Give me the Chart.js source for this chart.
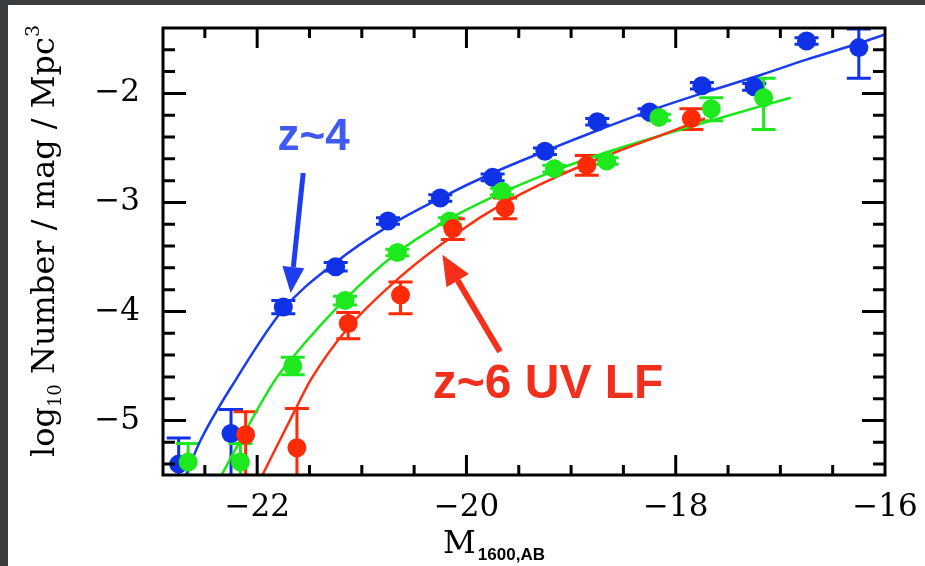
<!DOCTYPE html>
<html>
<head>
<meta charset="utf-8">
<script src="https://cdn.jsdelivr.net/npm/chart.js@4.4.0/dist/chart.umd.min.js"></script>
<style>
  html, body { margin: 0; padding: 0; background: #3a3d40; }
  #wrap { width: 925px; height: 566px; }
</style>
</head>
<body>
<div id="wrap"><canvas id="lf" width="925" height="566"></canvas></div>
<script>
// z~4 (blue) binned LF
const z4M  = [-22.75, -22.25, -21.75, -21.25, -20.75, -20.25, -19.75, -19.25, -18.75, -18.25, -17.75, -17.25, -16.75, -16.25];
const z4Phi = [-5.40, -5.12, -3.96, -3.59, -3.17, -2.96, -2.77, -2.53, -2.26, -2.17, -1.93, -1.94, -1.52, -1.58];
const z4Lo = [-5.80, -5.60, -4.02, -3.63, -3.20, -2.99, -2.80, -2.56, -2.29, -2.20, -1.96, -1.97, -1.55, -1.86];
const z4Hi = [-5.16, -4.90, -3.90, -3.55, -3.14, -2.93, -2.74, -2.50, -2.23, -2.14, -1.90, -1.91, -1.49, -1.41];

// z~5 (green)
const z5M  = [-22.66, -22.16, -21.66, -21.16, -20.66, -20.16, -19.66, -19.16, -18.66, -18.16, -17.66, -17.16];
const z5Phi = [-5.38, -5.38, -4.50, -3.90, -3.46, -3.17, -2.90, -2.69, -2.62, -2.22, -2.14, -2.04];
const z5Lo = [-5.80, -5.80, -4.58, -3.94, -3.49, -3.20, -2.93, -2.72, -2.65, -2.25, -2.25, -2.33];
const z5Hi = [-5.21, -5.21, -4.42, -3.86, -3.43, -3.14, -2.87, -2.66, -2.59, -2.19, -2.04, -1.86];

// z~6 (red)
const z6M  = [-22.11, -21.62, -21.13, -20.63, -20.13, -19.63, -18.85, -17.85];
const z6Phi = [-5.13, -5.25, -4.11, -3.85, -3.24, -3.05, -2.66, -2.23];
const z6Lo = [-5.80, -5.80, -4.25, -4.02, -3.34, -3.15, -2.75, -2.33];
const z6Hi = [-4.92, -4.89, -4.01, -3.73, -3.15, -2.96, -2.57, -2.14];

// fitted curves
const fit4M = [-22.68, -22.55, -22.2, -21.75, -21.25, -20.75, -20.25, -19.75, -19.25, -18.75, -18.25, -17.75, -17.25, -16.75, -16.25, -16.0];
const fit4Phi = [-5.50, -5.20, -4.62, -3.98, -3.55, -3.22, -2.96, -2.73, -2.53, -2.34, -2.16, -2.00, -1.85, -1.69, -1.54, -1.46];
const fit5M = [-22.34, -22.16, -21.83, -21.66, -21.16, -20.66, -20.16, -19.66, -19.16, -18.66, -18.16, -17.66, -17.16, -16.9];
const fit5Phi = [-5.50, -5.18, -4.63, -4.42, -3.89, -3.46, -3.15, -2.91, -2.71, -2.54, -2.39, -2.25, -2.11, -2.04];
const fit6M = [-21.95, -21.62, -21.49, -21.13, -20.63, -20.12, -19.63, -19.13, -18.63, -18.13, -17.72];
const fit6Phi = [-5.50, -4.87, -4.63, -4.15, -3.68, -3.30, -3.00, -2.76, -2.56, -2.38, -2.23];

// axes
const xRange = [-22.9, -16];
const yRange = [-5.5, -1.4];
const xTickVals = [-22, -20, -18, -16];
const yTickVals = [-5, -4, -3, -2];

const BLUE = '#0f32e6', GREEN = '#1ee81e', RED = '#ff2a06';

const toXY = (xs, ys) => xs.map((v, i) => ({ x: v, y: ys[i] }));
const minus = v => String(v).replace('-', '\u2212');

function pointSet(xs, ys, lo, hi, col, ord) {
    return {
        data: toXY(xs, ys), errLo: lo, errHi: hi,
        backgroundColor: col, borderColor: col, pointRadius: 9.5, pointHoverRadius: 9.5,
        borderWidth: 0, showLine: false, order: ord
    };
}
function fitSet(xs, ys, col, ord) {
    return {
        data: toXY(xs, ys), borderColor: col, borderWidth: 2.5, pointRadius: 0,
        showLine: true, cubicInterpolationMode: 'monotone', order: ord
    };
}

// dark frame + white page
const paper = {
    id: 'paper',
    beforeDraw(chart) {
        const ctx = chart.ctx;
        ctx.save();
        ctx.fillStyle = '#3a3d40';
        ctx.fillRect(0, 0, chart.width, chart.height);
        ctx.fillStyle = '#fff';
        ctx.fillRect(8, 5, chart.width - 8, chart.height - 5);
        ctx.restore();
    }
};

// vertical error bars with caps
const errBars = {
    id: 'errBars',
    beforeDatasetsDraw(chart) {
        const { ctx, chartArea: a, scales: { x, y } } = chart;
        ctx.save();
        ctx.beginPath();
        ctx.rect(a.left, a.top, a.right - a.left, a.bottom - a.top);
        ctx.clip();
        ctx.lineWidth = 3;
        chart.data.datasets.forEach(ds => {
            if (!ds.errLo) return;
            ctx.strokeStyle = ds.borderColor;
            ds.data.forEach((p, i) => {
                const px = x.getPixelForValue(p.x);
                const y1 = y.getPixelForValue(ds.errLo[i]);
                const y2 = y.getPixelForValue(ds.errHi[i]);
                ctx.beginPath();
                ctx.moveTo(px, y1); ctx.lineTo(px, y2);
                ctx.moveTo(px - 12, y1); ctx.lineTo(px + 12, y1);
                ctx.moveTo(px - 12, y2); ctx.lineTo(px + 12, y2);
                ctx.stroke();
            });
        });
        ctx.restore();
    }
};

// box, inward ticks, labels and arrows
function arrow(ctx, x0, y0, x1, y1, w, hl, hw, col) {
    const ang = Math.atan2(y1 - y0, x1 - x0);
    const bx = x1 - hl * Math.cos(ang), by = y1 - hl * Math.sin(ang);
    ctx.strokeStyle = col; ctx.fillStyle = col; ctx.lineWidth = w;
    ctx.beginPath(); ctx.moveTo(x0, y0); ctx.lineTo(bx, by); ctx.stroke();
    ctx.beginPath();
    ctx.moveTo(x1, y1);
    ctx.lineTo(bx + hw * Math.sin(ang), by - hw * Math.cos(ang));
    ctx.lineTo(bx - hw * Math.sin(ang), by + hw * Math.cos(ang));
    ctx.closePath(); ctx.fill();
}

const decor = {
    id: 'decor',
    afterDatasetsDraw(chart) {
        const { ctx, chartArea: a, scales: { x, y } } = chart;
        ctx.save();
        ctx.strokeStyle = '#000';
        ctx.lineWidth = 3;
        ctx.strokeRect(a.left, a.top, a.right - a.left, a.bottom - a.top);
        ctx.beginPath();
        for (let v = -22.5; v < xRange[1]; v += 0.5) {
            const px = x.getPixelForValue(v);
            const len = v % 2 === 0 ? 20 : 10;
            ctx.moveTo(px, a.bottom); ctx.lineTo(px, a.bottom - len);
            ctx.moveTo(px, a.top); ctx.lineTo(px, a.top + len);
        }
        for (let k = -27; k <= -8; k++) {
            const py = y.getPixelForValue(k / 5);
            const len = k % 5 === 0 ? 23 : 12;
            ctx.moveTo(a.left, py); ctx.lineTo(a.left + len, py);
            ctx.moveTo(a.right, py); ctx.lineTo(a.right - len, py);
        }
        ctx.stroke();

        // arrows
        arrow(ctx, x.getPixelForValue(-21.56), y.getPixelForValue(-2.73),
              x.getPixelForValue(-21.68), y.getPixelForValue(-3.83), 5, 26, 11, '#1e3ef0');
        arrow(ctx, x.getPixelForValue(-19.68), y.getPixelForValue(-4.37),
              x.getPixelForValue(-20.23), y.getPixelForValue(-3.48), 6, 30, 13, '#f4301a');

        // labels
        ctx.textAlign = 'center';
        ctx.textBaseline = 'middle';
        ctx.font = 'bold 44px "Liberation Sans"';
        ctx.fillStyle = '#3f5af2';
        ctx.fillText('z~4', x.getPixelForValue(-21.46), y.getPixelForValue(-2.41));
        ctx.font = 'bold 48px "Liberation Sans"';
        ctx.fillStyle = '#f0301c';
        ctx.fillText('z~6 UV LF', x.getPixelForValue(-19.22), y.getPixelForValue(-4.67));
        ctx.restore();
    },
    afterDraw(chart) {
        const ctx = chart.ctx;
        ctx.save();
        ctx.fillStyle = '#000';
        ctx.textBaseline = 'alphabetic';
        ctx.textAlign = 'left';

        // x title: M_1600,AB
        const mFont = '32px "DejaVu Serif"', sFont = 'bold 17px "Liberation Sans"';
        ctx.font = mFont; const wM = ctx.measureText('M').width;
        ctx.font = sFont; const wS = ctx.measureText('1600,AB').width;
        let x0 = 494 - (wM + wS + 2) / 2;
        ctx.font = mFont; ctx.fillText('M', x0, 553);
        ctx.font = sFont; ctx.fillText('1600,AB', x0 + wM + 2, 560);

        // y title, rotated
        const parts = [
            { t: 'log', f: '32px "DejaVu Serif"', dy: 0 },
            { t: '10', f: '18px "DejaVu Serif"', dy: 7 },
            { t: ' Number / mag / Mpc', f: '32px "DejaVu Serif"', dy: 0 },
            { t: '3', f: '19px "DejaVu Serif"', dy: -15 }
        ];
        let total = 0;
        parts.forEach(p => { ctx.font = p.f; p.w = ctx.measureText(p.t).width; total += p.w; });
        ctx.translate(54, 241);
        ctx.rotate(-Math.PI / 2);
        let cx = -total / 2;
        parts.forEach(p => { ctx.font = p.f; ctx.fillText(p.t, cx, p.dy); cx += p.w; });
        ctx.restore();
    }
};

const tickFont = { family: 'DejaVu Serif', size: 31 };

new Chart(document.getElementById('lf'), {
    type: 'scatter',
    data: {
        datasets: [
            fitSet(fit4M, fit4Phi, '#1a3cf0', 6),
            fitSet(fit5M, fit5Phi, '#18e818', 5),
            fitSet(fit6M, fit6Phi, '#ff3010', 4),
            pointSet(z4M, z4Phi, z4Lo, z4Hi, BLUE, 3),
            pointSet(z5M, z5Phi, z5Lo, z5Hi, GREEN, 2),
            pointSet(z6M, z6Phi, z6Lo, z6Hi, RED, 1)
        ]
    },
    options: {
        responsive: false,
        animation: false,
        devicePixelRatio: 1,
        layout: { padding: { top: 28, right: 40, left: 0, bottom: 0 } },
        plugins: { legend: { display: false }, tooltip: { enabled: false } },
        scales: {
            x: {
                type: 'linear', min: xRange[0], max: xRange[1],
                grid: { display: false, drawTicks: false }, border: { display: false },
                ticks: { font: tickFont, color: '#000', padding: 14, maxRotation: 0, autoSkip: false, callback: minus },
                afterBuildTicks: s => { s.ticks = xTickVals.map(v => ({ value: v })); },
                afterFit: s => { s.height = 91; s.paddingLeft = 0; s.paddingRight = 0; }
            },
            y: {
                type: 'linear', min: yRange[0], max: yRange[1],
                grid: { display: false, drawTicks: false }, border: { display: false },
                ticks: { font: tickFont, color: '#000', padding: 23, autoSkip: false, callback: minus },
                afterBuildTicks: s => { s.ticks = yTickVals.map(v => ({ value: v })); },
                afterFit: s => { s.width = 163; s.paddingTop = 0; s.paddingBottom = 0; }
            }
        }
    },
    plugins: [paper, errBars, decor]
});
</script>
</body>
</html>
